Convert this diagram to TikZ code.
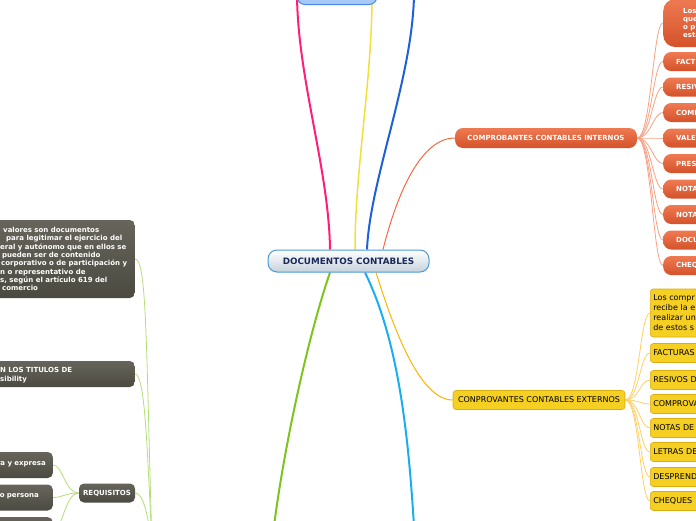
\documentclass[tikz,border=0pt]{standalone}
\usepackage{fontspec}
\setmainfont{DejaVu Sans}
\usetikzlibrary{backgrounds,positioning,calc}
\definecolor{hubblue}{HTML}{4A9AD8}
\definecolor{hubtext}{HTML}{1A2A5A}
\definecolor{hubfill}{HTML}{C6D2DC}
\definecolor{topfill}{HTML}{A6C9F8}
\definecolor{topline}{HTML}{4A88E0}
\definecolor{intdark}{HTML}{D4522A}
\definecolor{intlight}{HTML}{EF7A52}
\definecolor{intwirec}{HTML}{F7A083}
\definecolor{extfill}{HTML}{F5CF22}
\definecolor{extline}{HTML}{D9AE10}
\definecolor{extwirec}{HTML}{FFD062}
\definecolor{darkfill}{HTML}{4B4A41}
\definecolor{darklight}{HTML}{67655B}
\definecolor{leafwirec}{HTML}{B4DC78}
\definecolor{pinkwire}{HTML}{FF1F7A}
\definecolor{yellowwire}{HTML}{F0E03C}
\definecolor{bluewire}{HTML}{1E60D8}
\definecolor{orangewire}{HTML}{F26A45}
\definecolor{goldwire}{HTML}{FFB400}
\definecolor{cyanwire}{HTML}{1AAEF0}
\definecolor{greenwire}{HTML}{7DC41E}

\begin{document}
\begin{tikzpicture}[x=1pt,y=-1pt,
    hub/.style={rounded corners=9pt, draw=hubblue, line width=1pt, top color=white, bottom color=hubfill,
      text=hubtext, font=\bfseries\fontsize{8.8}{10}\selectfont, minimum width=161pt, minimum height=22pt, inner sep=0pt},
    topbox/.style={rounded corners=8pt, draw=topline, line width=1pt, fill=topfill, minimum width=80pt, minimum height=26pt},
    intbox/.style={rounded corners=8pt, top color=intlight, bottom color=intdark, text=white,
      font=\bfseries\fontsize{7}{8.3}\selectfont, minimum height=20pt, inner sep=0pt},
    intleaf/.style={intbox, anchor=west, minimum height=19pt, text width=50pt, align=left, inner xsep=13pt},
    extbox/.style={rounded corners=3pt, fill=extfill, draw=extline, line width=0.6pt, text=black,
      font=\fontsize{8}{10}\selectfont, minimum height=19pt, inner sep=0pt},
    extleaf/.style={extbox, anchor=west, text width=60pt, align=left, inner xsep=3pt},
    darkbox/.style={rounded corners=5pt, top color=darklight, bottom color=darkfill, text=white,
      font=\bfseries\fontsize{7}{8.33}\selectfont, inner sep=0pt},
    darkleaf/.style={darkbox, anchor=east, text width=80pt, align=right, minimum height=26pt},
    darktext/.style={text=white, font=\bfseries\fontsize{7}{8.33}\selectfont, inner sep=0pt, anchor=base west},
    trunk/.style={line width=2pt},
    intwire/.style={intwirec, line width=0.8pt},
    extwire/.style={extwirec, line width=0.8pt},
    leafwire/.style={leafwirec, line width=0.8pt}]
  \useasboundingbox (0,0) rectangle (696,520);
  \clip (0,0) rectangle (696,520);

  % 中心节点
  \node[hub] (hub) at (348.5,261) {DOCUMENTOS CONTABLES};
  \node[topbox, anchor=south] (topnode) at (337,5) {};

  % 内部凭证
  \node[intbox, minimum width=182pt] (intmain) at (546,138) {COMPROBANTES CONTABLES INTERNOS};
  \node[intleaf, rounded corners=12pt, minimum height=48pt, inner xsep=20pt] (int0) at (663,23)
    {Los\\que\\o p\\esta};
  \foreach \txt/\yy [count=\i] in {FACT/61.5, RESIV/87, COMP/112.5, VALE/138, PRES/163.5,
      NOTA/189, NOTA/214.5, DOCU/240, CHEQ/265.5} {
    \node[intleaf] (int\i) at (663,\yy) {\txt};
  }

  % 外部凭证
  \node[extbox, minimum width=172pt] (extmain) at (539,400) {CONPROVANTES CONTABLES EXTERNOS};
  \node[extleaf, minimum height=48pt] (ext0) at (650,313)
    {Los compr\\recibe la e\\realizar un\\de estos s};
  \foreach \txt/\yy [count=\i] in {FACTURAS/353, RESIVOS D/380, COMPROVA/404, NOTAS DE/428,
      LETRAS DE/452, DESPREND/477, CHEQUES/501} {
    \node[extleaf] (ext\i) at (650,\yy) {\txt};
  }

  % 左侧深色节点
  \node[darkbox, anchor=east, minimum width=170pt, minimum height=78pt] (titles) at (135,259) {};
  \foreach \xx/\txt [count=\i] in {3/{valores son documentos}, 6/{para legitimar el ejercicio del},
      0/{eral y autónomo que en ellos se}, 2/{pueden ser de contenido},
      1/{corporativo o de participación y}, 0/{n o representativo de},
      0/{s, según el artículo 619 del}, 2/{comercio}} {
    \node[darktext] (titles\i) at (\xx,232.5+8.33*\i-8.33) {\txt};
  }
  \node[darkbox, anchor=east, minimum width=170pt, minimum height=26pt] (legal) at (135,374) {};
  \node[darktext] (legal1) at (0,372.5) {N LOS TITULOS DE};
  \node[darktext] (legal2) at (0,381.2) {sibility};
  \node[darkbox, minimum width=56pt, minimum height=19pt] (req) at (107,493) {REQUISITOS};
  \node[darkleaf, inner xsep=7pt] (req1) at (53,465) {\raisebox{3pt}{ra y expresa}};
  \node[darkleaf, inner xsep=14pt] (req2) at (53,497.5) {\raisebox{4pt}{o persona}};
  \node[darkleaf, anchor=north east] (req3) at (53,517) {};

  % 连线端点（画面之外）
  \coordinate (pinkend) at (297,-4);
  \coordinate (yellowend) at (372,-4);
  \coordinate (blueend) at (414,-4);
  \coordinate (cyanend) at (414,526);
  \coordinate (greenend) at (274,526);
  \coordinate (leafhub) at (152,545);

  \begin{scope}[on background layer]
    % 主干
    \draw[trunk, pinkwire] ($(hub.north)+(-18.5,0)$) .. controls (329,170) and (298,80) .. (pinkend);
    \draw[trunk, yellowwire, line width=1.5pt] ($(hub.north)+(6.5,0)$) .. controls (355,170) and (372,80) .. (yellowend);
    \draw[trunk, bluewire] ($(hub.north)+(18.5,0)$) .. controls (370,180) and (412,80) .. (blueend);
    \draw[orangewire, line width=1pt] ($(hub.north)+(34.5,0)$) .. controls (398,190) and (422,138) .. (intmain.west);
    \draw[goldwire, line width=1pt] ($(hub.south)+(27.5,0)$) .. controls (394,330) and (420,400) .. (extmain.west);
    \draw[trunk, cyanwire] ($(hub.south)+(16.5,0)$) .. controls (398,340) and (408,430) .. (cyanend);
    \draw[trunk, greenwire] ($(hub.south)+(-18.5,0)$) .. controls (310,330) and (285,440) .. (greenend);

    % 分支
    \foreach \i in {0,...,9}
      \draw[intwire] (intmain.east) .. controls +(14,0) and +(-10,0) .. (int\i.west);
    \foreach \i in {0,...,7}
      \draw[extwire] (extmain.east) .. controls +(14,0) and +(-10,0) .. (ext\i.west);
    \foreach \i in {1,2,3}
      \draw[leafwire] (req.west) .. controls +(-14,0) and +(10,0) .. (req\i.east);
    \draw[leafwire] (titles.east) .. controls +(12,0) and +(-6,-200) .. (leafhub);
    \draw[leafwire] (legal.east) .. controls +(10,0) and +(-5,-100) .. (leafhub);
    \draw[leafwire] (req.east) .. controls +(8,0) and +(-4,-30) .. (leafhub);
  \end{scope}
\end{tikzpicture}
\end{document}
